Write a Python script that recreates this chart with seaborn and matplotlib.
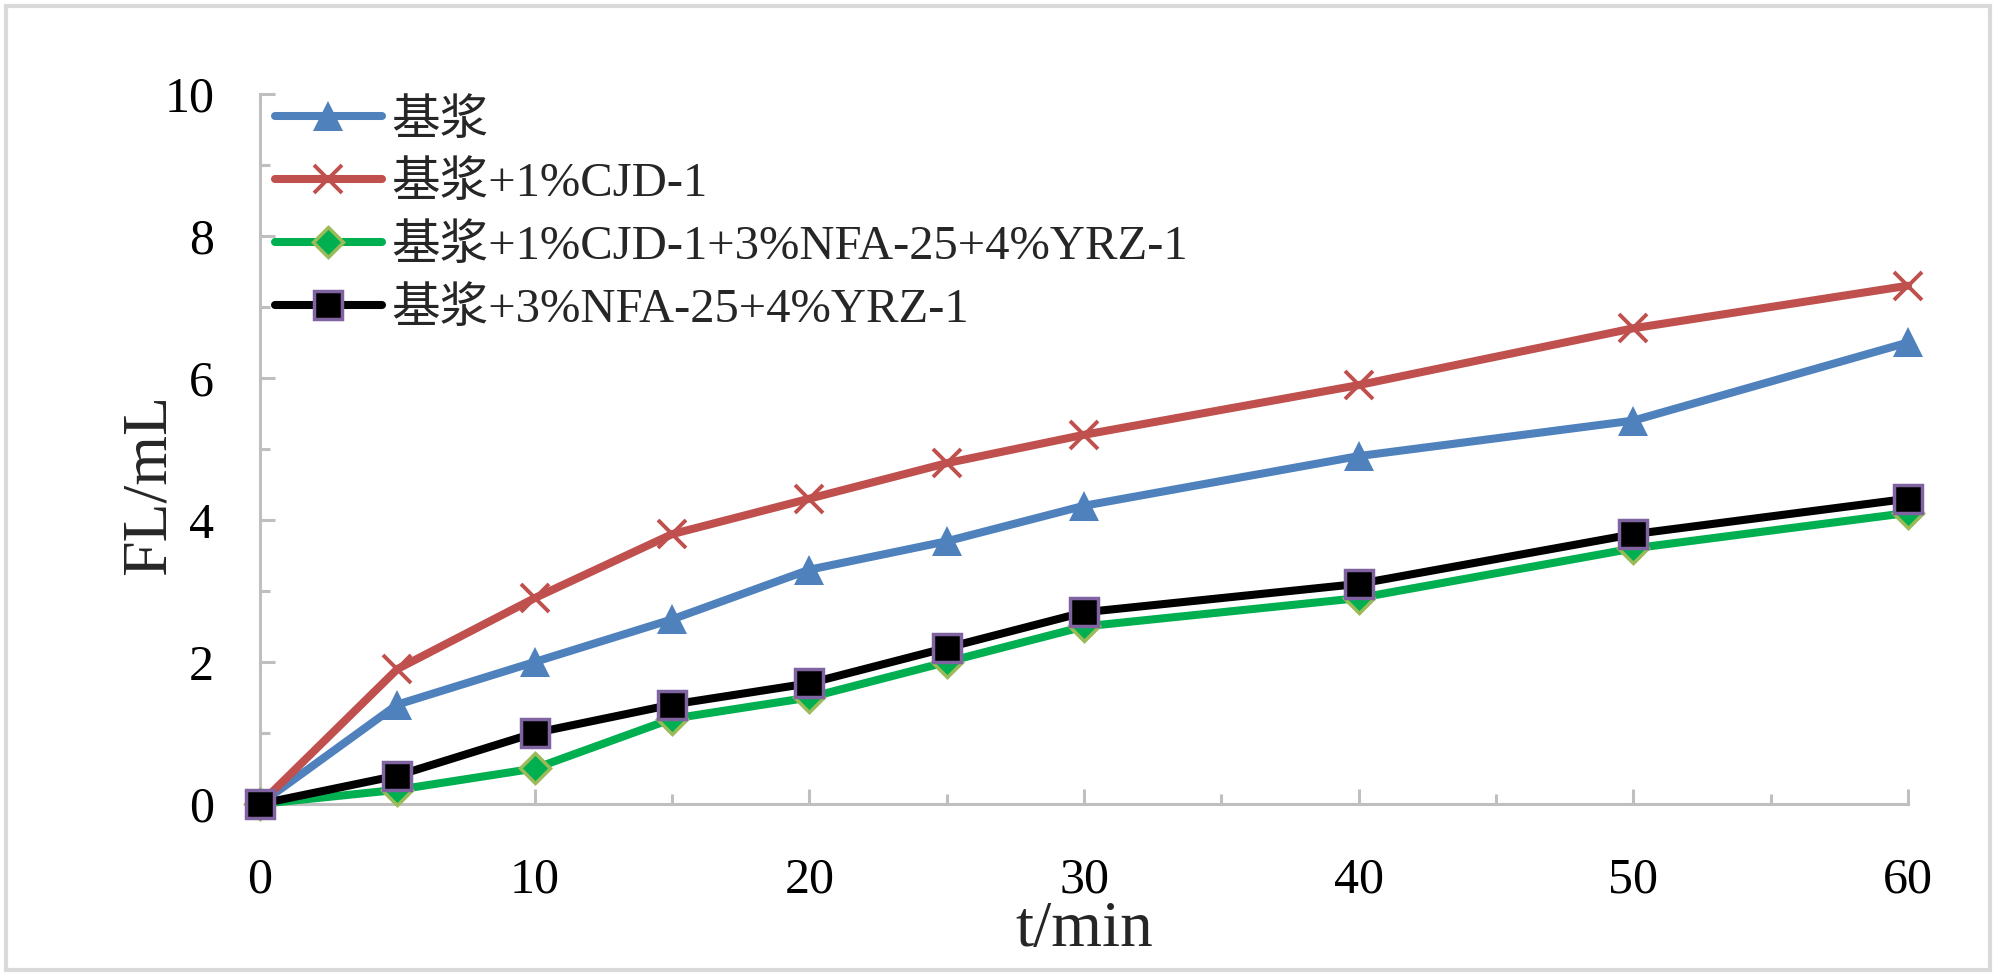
import matplotlib
matplotlib.use("Agg")
import matplotlib.pyplot as plt
import seaborn as sns
import pandas as pd
from matplotlib.patches import Rectangle
from matplotlib.ticker import MultipleLocator

# ---- data ----
t_min = [0, 5, 10, 15, 20, 25, 30, 40, 50, 60]
base = [0, 1.4, 2.0, 2.6, 3.3, 3.7, 4.2, 4.9, 5.4, 6.5]
base_cjd = [0, 1.9, 2.9, 3.8, 4.3, 4.8, 5.2, 5.9, 6.7, 7.3]
base_cjd_nfa_yrz = [0, 0.2, 0.5, 1.2, 1.5, 2.0, 2.5, 2.9, 3.6, 4.1]
base_nfa_yrz = [0, 0.4, 1.0, 1.4, 1.7, 2.2, 2.7, 3.1, 3.8, 4.3]
series_names = ["基浆", "基浆+1%CJD-1", "基浆+1%CJD-1+3%NFA-25+4%YRZ-1", "基浆+3%NFA-25+4%YRZ-1"]
x_label = "t/min"
y_label = "FL/mL"

sns.set_theme(style="white")
plt.rcParams['font.family'] = ['Liberation Serif', 'Noto Sans CJK SC', 'DejaVu Sans']

fig = plt.figure(figsize=(20, 9.8), dpi=100)
ax = fig.add_axes([0.13, 0.1796, 0.824, 0.7245])

styles = [
    dict(color="#4F81BD", marker="^", markersize=22, markerfacecolor="#4F81BD", markeredgecolor="#4F81BD", markeredgewidth=0),
    dict(color="#C0504D", marker="x", markersize=20, markeredgecolor="#C0504D", markeredgewidth=2.8),
    dict(color="#00B050", marker="D", markersize=15, markerfacecolor="#00B050", markeredgecolor="#9BBB59", markeredgewidth=2.5),
    dict(color="#000000", marker="s", markersize=20, markerfacecolor="#000000", markeredgecolor="#8064A2", markeredgewidth=2.5),
]
all_y = [base, base_cjd, base_cjd_nfa_yrz, base_nfa_yrz]
for name, yv, st in zip(series_names, all_y, styles):
    df = pd.DataFrame({"t": t_min, "FL": yv})
    sns.lineplot(data=df, x="t", y="FL", ax=ax, label=name, linewidth=5.8, clip_on=False, zorder=3, **st)

ax.set_xlim(0, 60)
ax.set_ylim(0, 10)
ax.xaxis.set_major_locator(MultipleLocator(10))
ax.xaxis.set_minor_locator(MultipleLocator(5))
ax.yaxis.set_major_locator(MultipleLocator(2))
ax.yaxis.set_minor_locator(MultipleLocator(1))

grey = "#BFBFBF"
for s in ["top", "right"]:
    ax.spines[s].set_visible(False)
for s in ["left", "bottom"]:
    ax.spines[s].set_color(grey)
    ax.spines[s].set_linewidth(2.2)

ax.tick_params(axis="both", which="major", direction="in", length=11, width=2.2, color=grey,
               labelsize=36, labelcolor="black")
ax.tick_params(axis="both", which="minor", direction="in", length=7, width=2.2, color=grey)
ax.tick_params(axis="y", which="major", pad=33, left=True)
ax.tick_params(axis="y", which="minor", left=True)
ax.tick_params(axis="x", which="major", pad=38, bottom=True)
ax.tick_params(axis="x", which="minor", bottom=True)

ax.set_xlabel(x_label, fontsize=47, va="baseline")
ax.xaxis.set_label_coords(0.5, -0.2)
ax.set_ylabel(y_label, fontsize=46, va="baseline")
ax.yaxis.set_label_coords(-0.058, 0.45)

leg = ax.legend(loc="upper left", bbox_to_anchor=(0.0, 1.014), frameon=False, fontsize=35,
                handlelength=2.2, handletextpad=0.2, labelspacing=0.37, borderaxespad=0.1,
                borderpad=0.2)

fig.patches.append(Rectangle((0.003, 0.01), 0.992, 0.984, transform=fig.transFigure,
                             fill=False, edgecolor="#D9D9D9", linewidth=3))

fig.savefig("out.png", dpi=100, facecolor="white")
